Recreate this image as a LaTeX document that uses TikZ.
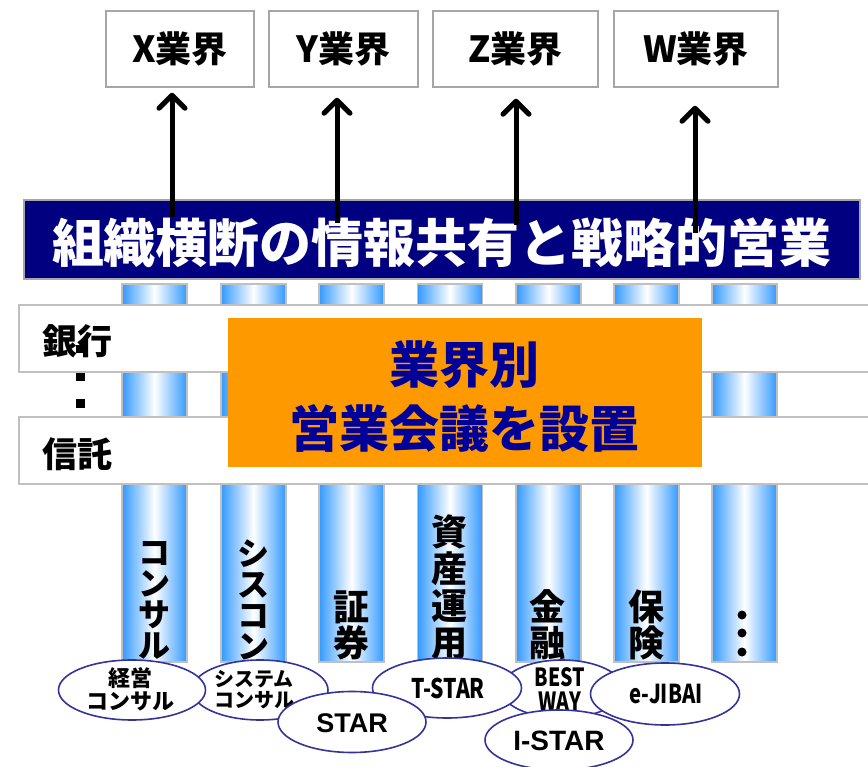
\documentclass[tikz,border=0pt]{standalone}
\usepackage{fontspec}
\newfontfamily\jp{Noto Sans CJK JP}
\newfontfamily\jpn{Noto Sans CJK JP}[FakeStretch=0.78]
\newfontfamily\arialf{Liberation Sans}
\usetikzlibrary{shapes.geometric,arrows.meta,calc}
\definecolor{navybar}{HTML}{000080}
\definecolor{gborder}{HTML}{C0C0C0}
\definecolor{boxgray}{HTML}{A6A6A6}
\definecolor{orangebox}{HTML}{FF9900}
\definecolor{txtnavy}{HTML}{000099}
\definecolor{colblue}{HTML}{3399FF}
\definecolor{ellblue}{HTML}{333399}
\tikzset{
  topbox/.style={draw=boxgray,line width=1.5pt,fill=white,minimum height=76pt,inner sep=0pt,font={\jp\bfseries\fontsize{36}{36}\selectfont}},
  colbar/.style={draw=gborder,line width=1.5pt,left color=colblue,right color=colblue,middle color=white,minimum width=65pt,minimum height=378pt,inner sep=0pt},
  band/.style={draw=gborder,line width=2.5pt,fill=white,minimum width=861pt,minimum height=67pt,inner sep=0pt},
  bandtxt/.style={font={\jp\bfseries\fontsize{35}{35}\selectfont},inner sep=0pt},
  vlab/.style={font={\jp\bfseries\fontsize{36}{36}\selectfont},align=center,inner sep=0pt,anchor=south},
  vlabk/.style={font={\jp\bfseries\fontsize{32}{31}\selectfont},align=center,inner sep=0pt,anchor=south},
  ell/.style={ellipse,draw=ellblue,line width=1.6pt,fill=white,inner sep=0pt,minimum width=148pt,minimum height=60pt},
  upar/.style={line width=5pt,-{Straight Barb[length=13pt,width=26pt,line cap=round,line join=round]}},
}
\begin{document}
\begin{tikzpicture}[x=1pt,y=-1pt]
\useasboundingbox (0,0) rectangle (868,767);
% columns
\node[colbar] (c1) at (154.5,473) {};
\node[colbar] (c2) at (253.5,473) {};
\node[colbar] (c3) at (351.5,473) {};
\node[colbar] (c4) at (450,473) {};
\node[colbar] (c5) at (548.5,473) {};
\node[colbar] (c6) at (646.5,473) {};
\node[colbar] (c7) at (744.5,473) {};
% navy bar
\node[draw=boxgray,line width=1.5pt,fill=navybar,minimum width=836pt,minimum height=79pt,inner sep=0pt] (bar) at (442,239.5) {};
\node[text=white,font={\jp\bfseries\fontsize{52}{52}\selectfont},inner sep=0pt] (bartxt) at (442,243) {組織横断の情報共有と戦略的営業};
% bands
\node[band] (bank) at (449.5,338.5) {};
\node[band] (trust) at (449.5,450.5) {};
\node[bandtxt] (banktxt) at (77,341) {銀行};
\node[bandtxt] (trusttxt) at (77,454) {信託};
\fill (76,345) rectangle (85,353);
\fill (76,373) rectangle (85,381);
\fill (76,399) rectangle (85,408);
% orange box
\node[fill=orangebox,minimum width=474pt,minimum height=149pt,inner sep=0pt] (org) at (465,392.5) {};
\node[text=txtnavy,font={\jp\bfseries\fontsize{50}{64}\selectfont},align=center,inner sep=0pt] (orgtxt) at (464,397) {業界別\\営業会議を設置};
% top boxes
\node[topbox,minimum width=148pt] (X) at (180,49) {X業界};
\node[topbox,minimum width=149pt] (Y) at (343.5,49) {Y業界};
\node[topbox,minimum width=165pt] (Z) at (515.5,49) {Z業界};
\node[topbox,minimum width=164pt] (W) at (696,49) {W業界};
% arrows
\coordinate (xs) at (172,217);
\coordinate (ys) at (337,223);
\coordinate (zs) at (516,225);
\coordinate (ws) at (695,233);
\draw[upar] (xs) -- ($(xs |- X.south)+(0,5)$);
\draw[upar] (ys) -- ($(ys |- Y.south)+(0,10)$);
\draw[upar] (zs) -- ($(zs |- Z.south)+(0,11)$);
\draw[upar] (ws) -- ($(ws |- W.south)+(0,18)$);
% column labels
\node[vlabk] (l1) at (154,660) {コ\\ン\\サ\\ル};
\node[vlabk] (l2) at (253,660) {シ\\ス\\コ\\ン};
\node[vlab] (l3) at (351.5,660) {証\\券};
\node[vlab,font={\jp\bfseries\fontsize{36}{37}\selectfont}] (l4) at (449,660) {資\\産\\運\\用};
\node[vlab] (l5) at (547,660) {金\\融};
\node[vlab] (l6) at (646.5,660) {保\\険};
\fill (742,615) circle (4.5);
\fill (742,633) circle (4.5);
\fill (742,652) circle (4.5);
% ellipses
\node[ell,minimum width=122pt,minimum height=58pt] (e5) at (562,689) {};
\node[font={\jpn\bfseries\fontsize{25}{24}\selectfont},align=center,inner sep=0pt] (t5) at (560,689) {BEST\\WAY};
\node[ell,minimum width=149pt] (e4) at (447,688) {};
\node[font={\jpn\bfseries\fontsize{27}{27}\selectfont},inner sep=0pt] (t4) at (448,688) {T-STAR};
\node[ell] (e7) at (559,740) {};
\node[font={\arialf\bfseries\fontsize{28}{28}\selectfont},inner sep=0pt] (t7) at (559,741) {I-STAR};
\node[ell,minimum width=149pt,minimum height=62pt] (e6) at (665,694) {};
\node[font={\jpn\bfseries\fontsize{26}{26}\selectfont},inner sep=0pt] (t6) at (666,694) {e-JIBAI};
\node[ell,minimum width=136pt] (e2) at (260,690) {};
\node[font={\jp\bfseries\fontsize{20}{21}\selectfont},align=center,inner sep=0pt] (t2) at (254,690) {システム\\コンサル};
\node[ell,minimum width=147pt] (e1) at (132,690) {};
\node[font={\jp\bfseries\fontsize{22}{23}\selectfont},align=center,inner sep=0pt] (t1) at (130,689) {経営\\コンサル};
\node[ell,minimum width=148pt,minimum height=61pt] (e3) at (352,722) {};
\node[font={\arialf\bfseries\fontsize{27}{27}\selectfont},inner sep=0pt] (t3) at (352,723) {STAR};
\end{tikzpicture}
\end{document}
